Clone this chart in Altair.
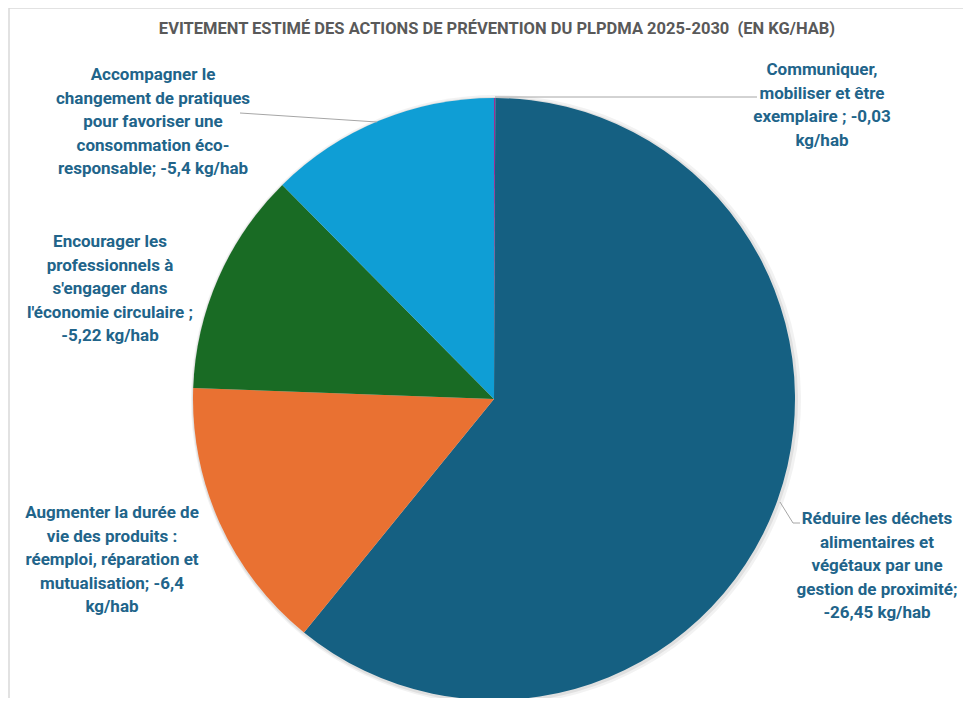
import altair as alt
import pandas as pd

# ---- data ----
categories = [
    "Communiquer, mobiliser et être exemplaire",
    "Réduire les déchets alimentaires et végétaux par une gestion de proximité",
    "Augmenter la durée de vie des produits : réemploi, réparation et mutualisation",
    "Encourager les professionnels à s'engager dans l'économie circulaire",
    "Accompagner le changement de pratiques pour favoriser une consommation éco-responsable",
]
values = [-0.03, -26.45, -6.4, -5.22, -5.4]
colors = ["#A02B93", "#156082", "#E97132", "#196B24", "#0F9ED5"]

label_texts = [
    "Communiquer,\nmobiliser et être\nexemplaire ; -0,03\nkg/hab",
    "Réduire les déchets\nalimentaires et\nvégétaux par une\ngestion de proximité;\n-26,45 kg/hab",
    "Augmenter la durée de\nvie des produits :\nréemploi, réparation et\nmutualisation; -6,4\nkg/hab",
    "Encourager les\nprofessionnels à\ns'engager dans\nl'économie circulaire ;\n-5,22 kg/hab",
    "Accompagner le\nchangement de pratiques\npour favoriser une\nconsommation éco-\nresponsable; -5,4 kg/hab",
]

title_text = "EVITEMENT ESTIMÉ DES ACTIONS DE PRÉVENTION DU PLPDMA 2025-2030\u00a0 (EN KG/HAB)"

# ---- layout (pixels, view coordinates) ----
CX, CY, R = 486, 391, 301
label_pos = [(814, 62), (869, 511), (104, 505), (102, 234), (145, 67)]
leaders = [
    (487, 89, 749, 89),
    (232, 105, 369, 114),
    (772, 494, 785, 515),
    (785, 515, 792, 515),
]
frame = [(1, 0, 955, 0), (1, 0, 1, 690)]
FONT = "Roboto"

df = pd.DataFrame({
    "cat": categories,
    "val": [abs(v) for v in values],
    "idx": list(range(len(categories))),
})

color_scale = alt.Scale(domain=categories, range=colors)

shadow = alt.Chart(df).mark_arc(
    radius=R + 4, color="#000000", opacity=0.05
).encode(
    theta=alt.Theta("val:Q", stack=True),
    order=alt.Order("idx:Q"),
    x=alt.value(CX + 2), y=alt.value(CY + 1),
)
shadow2 = alt.Chart(df).mark_arc(
    radius=R + 2, color="#000000", opacity=0.07
).encode(
    theta=alt.Theta("val:Q", stack=True),
    order=alt.Order("idx:Q"),
    x=alt.value(CX + 1), y=alt.value(CY + 1),
)

pie = alt.Chart(df).mark_arc(radius=R).encode(
    theta=alt.Theta("val:Q", stack=True),
    order=alt.Order("idx:Q"),
    color=alt.Color("cat:N", scale=color_scale, legend=None),
    x=alt.value(CX), y=alt.value(CY),
)

lab_df = pd.DataFrame({
    "text": label_texts,
    "x": [p[0] for p in label_pos],
    "y": [p[1] for p in label_pos],
})
labels = alt.Chart(lab_df).mark_text(
    font=FONT, fontWeight="bold", fontSize=17,
    color="#21648A", align="center", baseline="middle",
    lineBreak="\n", lineHeight=23.5,
).encode(
    x=alt.X("x:Q", scale=None),
    y=alt.Y("y:Q", scale=None),
    text="text:N",
)

seg_df = pd.DataFrame(leaders, columns=["x", "y", "x2", "y2"])
lines = alt.Chart(seg_df).mark_rule(color="#A6A6A6", strokeWidth=1).encode(
    x=alt.X("x:Q", scale=None), y=alt.Y("y:Q", scale=None),
    x2="x2:Q", y2="y2:Q",
)

fr_df = pd.DataFrame(frame, columns=["x", "y", "x2", "y2"])
frame_lines = alt.Chart(fr_df).mark_rule(color="#D9D9D9", strokeWidth=1.5).encode(
    x=alt.X("x:Q", scale=None), y=alt.Y("y:Q", scale=None),
    x2="x2:Q", y2="y2:Q",
)

title = alt.Chart(pd.DataFrame({"t": [title_text]})).mark_text(
    font=FONT, fontWeight="bold", fontSize=16.5,
    color="#595959", align="center", baseline="middle",
).encode(
    x=alt.value(489), y=alt.value(21), text="t:N",
)

chart = alt.layer(
    frame_lines, shadow, shadow2, pie, lines, labels, title
).properties(
    width=955, height=690,
    autosize=alt.AutoSizeParams(type="none"),
    padding=0,
).configure_view(stroke=None)

chart.save("out.html", embed_options={"renderer": "svg", "actions": False})
